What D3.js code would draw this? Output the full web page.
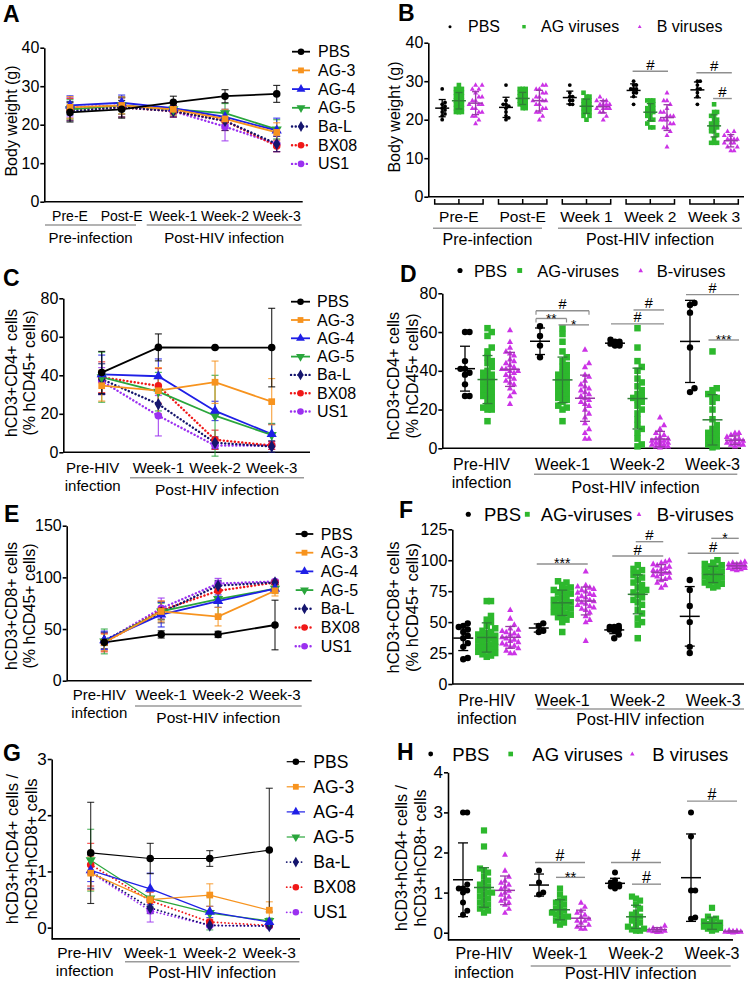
<!DOCTYPE html>
<html>
<head>
<meta charset="utf-8">
<script src="https://cdn.jsdelivr.net/npm/d3@7/dist/d3.min.js"></script>
<style>
html,body{margin:0;padding:0;background:#fff;}
svg{display:block;}
text{font-family:Arial,"Liberation Sans",Helvetica,sans-serif;}
</style>
</head>
<body>
<svg id="fig" width="748" height="982" xmlns="http://www.w3.org/2000/svg"></svg>
<script>
// ================= DATA =================
const lineSeries = ["PBS","AG-3","AG-4","AG-5","Ba-L","BX08","US1"];

// Panel A: body weight (g), mean and error per series
const aCategories = [["Pre-E"],["Post-E"],["Week-1"],["Week-2"],["Week-3"]];
const aGroupLabels = ["Pre-infection","Post-HIV infection"];
const aMeans = [
  [23.2,24.0,25.8,27.4,28.0],
  [24.5,25.0,24.0,21.5,18.0],
  [25.0,25.7,24.3,22.0,18.5],
  [24.0,25.0,24.0,23.0,18.8],
  [23.5,24.5,23.5,21.0,15.0],
  [24.0,24.5,23.5,21.0,14.5],
  [24.5,25.0,23.5,19.5,15.0]];
const aErrors = [
  [2.5,2.3,1.6,1.7,2.2],
  [2.8,2.2,1.5,2.5,2.5],
  [2.5,2.0,1.5,2.0,3.2],
  [2.5,2.2,1.5,2.5,2.5],
  [2.5,2.5,1.5,2.5,2.0],
  [2.8,2.5,1.5,2.5,1.5],
  [2.5,2.3,1.5,3.7,2.0]];

// Shared categories for panels C–H
const hivCategories = [["Pre-HIV","infection"],["Week-1"],["Week-2"],["Week-3"]];
const postLabel = "Post-HIV infection";

// Panel C: hCD3+CD4+ (% hCD45+)
const cMeans = [
  [41.4,54.5,54.4,54.4],
  [34.6,32.0,36.4,26.3],
  [40.5,39.5,21.5,9.5],
  [39.0,31.5,19.0,9.0],
  [38.0,25.0,5.0,3.0],
  [39.0,34.5,6.5,3.5],
  [37.0,19.0,3.5,3.5]];
const cErrors = [
  [11,7,0.5,20.4],
  [8,12,11,12],
  [10,9,5,5],
  [13,10,21,6],
  [8,6,3,3],
  [8,9,5,2],
  [7,10.5,2,2]];

// Panel E: hCD3+CD8+ (% hCD45+)
const eMeans = [
  [37.1,44.8,44.8,53.9],
  [37,67,62,87],
  [39,64,77,89],
  [38,67,79,89],
  [39,66,92,95],
  [37,68,87,95],
  [38,70,94,96]];
const eErrors = [
  [3,3.5,3,24],
  [8,10,9,5],
  [9,12,6,4],
  [12,8,17,4],
  [8,10,5,2],
  [9,9,6,2],
  [8,10,5,2]];

// Panel G: CD4/CD8 ratio
const gMeans = [
  [1.33,1.23,1.23,1.38],
  [0.97,0.50,0.58,0.31],
  [1.02,0.69,0.28,0.10],
  [1.20,0.52,0.26,0.12],
  [1.00,0.35,0.04,0.03],
  [1.12,0.48,0.10,0.04],
  [0.98,0.30,0.04,0.03]];
const gErrors = [
  [0.9,0.27,0.14,1.1],
  [0.3,0.15,0.2,0.15],
  [0.2,0.28,0.1,0.05],
  [0.55,0.15,0.3,0.05],
  [0.3,0.1,0.02,0.02],
  [0.38,0.15,0.05,0.02],
  [0.3,0.2,0.02,0.02]];

// Scatter panels: individual mice
const bLegend = ["PBS","AG viruses","B viruses"];
const dLegend = ["PBS","AG-viruses","B-viruses"];
const bCategories = [["Pre-E"],["Post-E"],["Week 1"],["Week 2"],["Week 3"]];

const bPBS = [
  [28,24.5,24,23.5,23,22.5,22,21.5,21,20],
  [29,25,24,24,23.5,23,22,21,20,20.5],
  [29,27,26,26,25,25,24,24],
  [30,29,29,28,28,28,27,27,26,24],
  [30,30,29,28,27,26,24,28]];
const bAG = [
  [29,28,28,28,27,27,27,26,26,26,25,25,25,25,24,24,24,24,23,23,23,23,22,22,22,22],
  [28,28,28,27,27,27,26,26,26,26,25,25,25,25,25,24,24,24,24,23,23],
  [27,26,26,25,25,25,24,24,24,24,23,23,23,23,22,22,22,21,21,20],
  [25,25,25,24,24,23,23,23,22,22,22,22,21,21,20,20,19,18,18],
  [24,22,22,21,21,20,20,19,19,19,18,18,18,17,17,16,15,14,14,14]];
const bB = [
  [29,29,28,27,26,26,25,25,24,24,24,23,23,22,22,21,21,20,19,28],
  [29,29,28,27,26,26,25,25,25,24,24,23,23,22,22,21,20,28,27],
  [26,25,25,24,24,24,23,23,23,22,22,21,20,25,24,23],
  [27,25,25,24,23,22,21,21,20,20,20,19,19,18,18,17,16,13,22,21],
  [17,17,16,15,15,15,14,14,14,13,13,12,12,16,15]];
const bSig = [
  {cat:3, from:0, to:2, y:32.6, label:"#"},
  {cat:4, from:0, to:2, y:32.2, label:"#"},
  {cat:4, from:1, to:2, y:25.5, label:"#"}];

const dPBS = [
  [60,60,45,41,41,39,38,33,27,27],
  [63,58,53,47],
  [56,55,55,54,54,54,53,53],
  [75,74,70,52,31,29]];
const dAG = [
  [62,60,58,52,50,47,45,44,42,40,39,38,37,36,35,34,33,32,31,30,29,28,27,26,25,23,22,21,20,20,14],
  [62,59,55,50,47,45,43,42,40,39,38,37,36,35,34,33,32,31,30,29,28,27,26,25,24,22,21,20,14],
  [62,52,45,42,40,36,34,32,30,28,27,26,25,24,22,20,18,15,12,10,8,5,2,1],
  [50,31,30,28,27,26,24,20,15,12,10,9,8,7,6,5,5,4,3,2,1,0.5]];
const dB = [
  [61,55,52,50,49,48,46,45,44,43,42,41,41,40,40,39,38,37,36,35,34,33,31,29,27,23],
  [51,44,42,38,37,35,33,32,31,30,29,28,27,26,25,24,23,22,20,18,16,13,10,8,5,5],
  [16,12,10,8,7,6,5,5,4,4,4,3,3,3,2,2,2,1,1,1,0.5],
  [8,8,7,6,5,5,4,4,3,3,3,2,2,2,1]];
const dSig = [
  {cat:1, from:0, to:2, y:71, label:"#", ends:true},
  {cat:1, from:0, to:1, y:67, label:"**", ends:true},
  {cat:1, from:1, to:2, y:63.7, label:"*"},
  {cat:2, from:1, to:2, y:71.4, label:"#"},
  {cat:2, from:0, to:2, y:64.2, label:"#"},
  {cat:3, from:0, to:2, y:79.3, label:"#"},
  {cat:3, from:1, to:2, y:55.9, label:"***"}];

const fPBS = [
  [49,47,46,44,42,39,37,33,30,21,20],
  [49,47,43,42],
  [47,46,46,45,45,44,44,43,40,37],
  [84,76,63,50,30,25]];
const fAG = [
  [67,67,55,52,50,47,45,43,42,41,40,39,38,37,36,35,34,33,32,31,30,30,29,28,27,26,25,24,23,22],
  [83,82,80,78,77,76,75,74,73,72,70,69,68,67,66,65,64,63,62,61,60,59,58,57,56,55,54,52,50,42],
  [96,93,92,90,88,86,84,82,80,78,76,75,74,72,70,68,66,64,60,57,53,50,48,37],
  [100,98,97,96,95,94,93,92,91,90,89,88,87,86,85,84,83,82,81,80,79,78]];
const fB = [
  [60,53,48,45,44,43,42,41,40,39,38,37,36,35,34,33,32,31,30,29,27,25,25],
  [91,80,79,78,77,76,75,74,73,72,71,70,69,68,67,66,65,64,63,62,61,60,58,55,52,50,35],
  [100,99,98,97,96,95,94,93,92,91,90,90,89,88,87,86,85,84,82,80,78],
  [99,98,98,97,97,96,96,95,95,94,94,93,93,92]];
const fSig = [
  {cat:1, from:0, to:2, y:97, label:"***"},
  {cat:2, from:1, to:2, y:115, label:"#"},
  {cat:2, from:0, to:2, y:103.4, label:"#"},
  {cat:3, from:1, to:2, y:117.7, label:"*"},
  {cat:3, from:0, to:2, y:105.6, label:"#"}];

const hPBS = [
  [3.0,3.0,1.2,1.1,1.1,1.05,1.0,0.75,0.55,0.45],
  [1.55,1.25,1.0,0.95],
  [1.5,1.3,1.25,1.2,1.2,1.15,1.15,1.1],
  [3.0,2.4,1.05,1.05,0.38,0.35]];
const hAG = [
  [2.55,2.15,1.6,1.55,1.5,1.4,1.3,1.25,1.2,1.15,1.1,1.05,1.0,1.0,0.95,0.9,0.85,0.8,0.75,0.7,0.65,0.6,0.55,0.5],
  [1.1,0.95,0.85,0.8,0.75,0.7,0.65,0.6,0.55,0.5,0.5,0.45,0.4,0.4,0.35,0.3,0.25,0.2],
  [0.9,0.85,0.8,0.7,0.6,0.5,0.45,0.4,0.35,0.3,0.25,0.2,0.15,0.1,0.08,0.05,0.05],
  [0.62,0.4,0.35,0.3,0.28,0.25,0.22,0.2,0.18,0.15,0.12,0.1,0.08,0.05]];
const hB = [
  [1.95,1.55,1.4,1.3,1.25,1.2,1.15,1.1,1.05,1.0,0.95,0.9,0.85,0.8,0.75,0.7,0.6,0.5],
  [0.75,0.65,0.55,0.5,0.45,0.4,0.35,0.3,0.3,0.25,0.2,0.15,0.1,0.1],
  [0.18,0.12,0.1,0.08,0.06,0.05,0.04,0.03,0.02],
  [0.06,0.05,0.04,0.03,0.03,0.02,0.02,0.01]];
const hSig = [
  {cat:1, from:0, to:2, y:1.75, label:"#"},
  {cat:1, from:1, to:2, y:1.38, label:"**"},
  {cat:2, from:0, to:2, y:1.75, label:"#"},
  {cat:2, from:1, to:2, y:1.21, label:"#"},
  {cat:3, from:0, to:2, y:3.28, label:"#"}];

// ================= STYLES =================
const lineStyle = [
  {color:"#000000", dotted:false, sym:"circle"},
  {color:"#f7931e", dotted:false, sym:"square"},
  {color:"#1f1fe6", dotted:false, sym:"triangle"},
  {color:"#2aa63c", dotted:false, sym:"triangleDown"},
  {color:"#15156e", dotted:true,  sym:"diamond"},
  {color:"#f01818", dotted:true,  sym:"circle"},
  {color:"#9b30f0", dotted:true,  sym:"circle"}];
const scatterStyle = [
  {fill:"#000000", bar:"#000000", shape:"dot"},
  {fill:"#2db82d", bar:"#2f7f36", shape:"square"},
  {fill:"#cc33e6", bar:"#9a3aa8", shape:"tri"}];
const SIGCOL = "#8f8f8f", GROUPCOL = "#9a9a9a";

const svg = d3.select("#fig");

// ================= HELPERS =================
function txt(g, x, y, s, size, o = {}) {
  return g.append("text").attr("x", x).attr("y", y).attr("font-size", size)
    .attr("text-anchor", o.anchor || "middle")
    .attr("font-weight", o.weight || "normal")
    .attr("dominant-baseline", o.db || "auto")
    .attr("fill", o.fill || "#000").text(s);
}
function panelLetter(L, pos) { txt(svg, pos[0], pos[1], L, 23, {anchor:"start", weight:"bold"}); }
function yLabel(lines, xs, yc, size) {
  lines.forEach((s, i) => {
    svg.append("text").attr("transform", `translate(${xs[i]},${yc}) rotate(-90)`)
      .attr("text-anchor", "middle").attr("dominant-baseline", "central")
      .attr("font-size", size).attr("fill", "#000").text(s);
  });
}
function yAxis(g, P, y) {
  const ax = g.append("g").attr("transform", `translate(${P.axisX},0)`)
    .call(d3.axisLeft(y).tickValues(P.yticks).tickFormat(d3.format("d"))
      .tickSize(4).tickSizeOuter(0).tickPadding(1));
  ax.select(".domain").attr("stroke", "#000").attr("stroke-width", 1.6);
  ax.selectAll(".tick line").attr("stroke", "#000").attr("stroke-width", 1.6);
  ax.selectAll(".tick text").attr("font-size", P.tickFont).attr("fill", "#000")
    .attr("font-family", "Arial, 'Liberation Sans', sans-serif");
  g.append("line").attr("x1", P.axisX).attr("x2", P.axisRight)
    .attr("y1", y.range()[0]).attr("y2", y.range()[0])
    .attr("stroke", "#000").attr("stroke-width", 1.6);
}
function symPath(type, size) {
  const map = {circle:d3.symbolCircle, square:d3.symbolSquare, triangle:d3.symbolTriangle,
               triangleDown:d3.symbolTriangle, diamond:d3.symbolDiamond};
  return d3.symbol(map[type], size)();
}
function drawSym(g, type, cx, cy, size, color) {
  g.append("path").attr("d", symPath(type, size))
    .attr("transform", `translate(${cx},${cy})` + (type === "triangleDown" ? " rotate(180)" : ""))
    .attr("fill", color);
}
function catLabels(g, cats, xpos, P) {
  cats.forEach((lines, i) => {
    lines.forEach((s, j) => {
      txt(g, xpos(i) + (P.catDx ? P.catDx[i] : 0), P.catBase[j], s, P.catFont);
    });
  });
}
function groupDecor(g, groups, font) {
  groups.forEach(gr => {
    g.append("line").attr("x1", gr.x0).attr("x2", gr.x1).attr("y1", gr.y).attr("y2", gr.y)
      .attr("stroke", GROUPCOL).attr("stroke-width", 1.6);
    txt(g, (gr.x0 + gr.x1) / 2, gr.base, gr.label, font);
  });
}

// ================= LINE CHART =================
function drawLineChart(P, cats, means, errors) {
  const g = svg.append("g");
  const x = d3.scalePoint().domain(d3.range(cats.length)).range(P.catRange);
  const y = d3.scaleLinear().domain(P.ydomain).range([P.yBottom, P.yTop]);
  yAxis(g, P, y);
  const order = d3.range(lineSeries.length).reverse();
  order.forEach(si => {
    const st = lineStyle[si];
    means[si].forEach((m, i) => {
      const e = errors[si][i], cx = x(i);
      g.append("line").attr("x1", cx).attr("x2", cx).attr("y1", y(m - e)).attr("y2", y(m + e))
        .attr("stroke", st.color).attr("stroke-width", P.ebW).attr("opacity", 0.8);
      [m - e, m + e].forEach(v => g.append("line").attr("x1", cx - P.cap).attr("x2", cx + P.cap)
        .attr("y1", y(v)).attr("y2", y(v)).attr("stroke", st.color).attr("stroke-width", P.ebW).attr("opacity", 0.8));
    });
  });
  const lineGen = d3.line().x((d, i) => x(i)).y(d => y(d));
  order.forEach(si => {
    const st = lineStyle[si];
    const p = g.append("path").attr("d", lineGen(means[si])).attr("fill", "none")
      .attr("stroke", st.color).attr("stroke-width", st.dotted ? P.lw + 0.6 : P.lw);
    if (st.dotted) p.attr("stroke-dasharray", "0.1,3.6").attr("stroke-linecap", "round");
  });
  order.forEach(si => {
    const st = lineStyle[si];
    means[si].forEach((m, i) => drawSym(g, st.sym, x(i), y(m), P.symSize, st.color));
  });
  lineSeries.forEach((name, si) => {
    const st = lineStyle[si];
    const ly = P.leg.y0 + si * P.leg.step;
    const l = g.append("line").attr("x1", P.leg.x0).attr("x2", P.leg.x1).attr("y1", ly).attr("y2", ly)
      .attr("stroke", st.color).attr("stroke-width", st.dotted ? P.lw + 0.6 : P.lw);
    if (st.dotted) l.attr("stroke-dasharray", "0.1,3.6").attr("stroke-linecap", "round");
    drawSym(g, st.sym, (P.leg.x0 + P.leg.x1) / 2, ly, P.symSize * 0.75, st.color);
    txt(g, P.leg.tx, ly, name, P.leg.font, {anchor:"start", db:"central"});
  });
  catLabels(g, cats, x, P);
  groupDecor(g, P.groups, P.groupFont);
}

// ================= SCATTER CHART =================
// deterministic column layout; overlaps allowed when the spread limit is reached
function swarm(pys, d, maxSpread) {
  const idx = d3.range(pys.length).sort((a, b) => pys[b] - pys[a]);
  const step = d * 0.65;
  const kmax = Math.max(1, Math.floor(maxSpread / step));
  const cands = [0];
  for (let k = 1; k <= kmax; k++) { cands.push(k * step, -k * step); }
  const placed = [], out = new Array(pys.length);
  idx.forEach(i => {
    const py = pys[i];
    let best = null, bestScore = -1;
    for (const dx of cands) {
      let minD = Infinity;
      placed.forEach(q => {
        const ddx = Math.abs(q.dx - dx), ddy = Math.abs(q.py - py);
        if (ddx < step * 0.9) minD = Math.min(minD, ddy);
      });
      if (minD >= d * 0.85) { best = dx; bestScore = Infinity; break; }
      if (minD > bestScore) { bestScore = minD; best = dx; }
    }
    placed.push({py, dx: best}); out[i] = best;
  });
  return out;
}
function drawMarker(g, shape, cx, cy, P, color) {
  if (shape === "dot") g.append("circle").attr("cx", cx).attr("cy", cy).attr("r", P.dotR).attr("fill", color);
  else if (shape === "square") g.append("rect").attr("x", cx - P.sq / 2).attr("y", cy - P.sq / 2)
      .attr("width", P.sq).attr("height", P.sq).attr("fill", color);
  else {
    const w = P.tri, h = w * 0.9;
    g.append("path").attr("d", `M${cx},${cy - h * 0.6}L${cx + w / 2},${cy + h * 0.4}L${cx - w / 2},${cy + h * 0.4}Z`).attr("fill", color);
  }
}
function drawScatter(P, cats, groups, sig, legendNames) {
  const g = svg.append("g");
  const xb = d3.scaleBand().domain(d3.range(cats.length)).range(P.bandRange);
  const center = i => xb(i) + xb.bandwidth() / 2;
  const off = [-P.sub, 0, P.sub];
  const y = d3.scaleLinear().domain(P.ydomain).range([P.yBottom, P.yTop]);
  yAxis(g, P, y);
  const ptG = g.append("g"), barG = g.append("g");
  cats.forEach((c, i) => {
    groups.forEach((grp, k) => {
      const vals = grp[i], st = scatterStyle[k];
      const cx0 = center(i) + off[k];
      const pys = vals.map(v => y(v));
      const size = k === 0 ? P.dotR * 2 + 0.5 : (k === 1 ? P.sq : P.tri);
      const dxs = swarm(pys, size, P.spread[k]);
      vals.forEach((v, j) => drawMarker(ptG, st.shape, cx0 + dxs[j], pys[j], P, st.fill));
      const m = d3.mean(vals), sd = d3.deviation(vals);
      barG.append("line").attr("x1", cx0 - P.meanW).attr("x2", cx0 + P.meanW).attr("y1", y(m)).attr("y2", y(m))
        .attr("stroke", st.bar).attr("stroke-width", 1.5);
      barG.append("line").attr("x1", cx0).attr("x2", cx0).attr("y1", y(m - sd)).attr("y2", y(m + sd))
        .attr("stroke", st.bar).attr("stroke-width", 1.3);
      [m - sd, m + sd].forEach(v => barG.append("line").attr("x1", cx0 - P.capW).attr("x2", cx0 + P.capW)
        .attr("y1", y(v)).attr("y2", y(v)).attr("stroke", st.bar).attr("stroke-width", 1.3));
    });
    if (P.bracket) {
      const yb = P.bracket.y, half = P.sub + P.bracket.ext, cx = center(i);
      g.append("path").attr("d", `M${cx - half},${yb - 5}V${yb}H${cx + half}V${yb - 5}M${cx},${yb}V${yb - 5}`)
        .attr("fill", "none").attr("stroke", "#000").attr("stroke-width", 1.5);
    }
  });
  sig.forEach(s => {
    const xa = center(s.cat) + off[s.from] - P.sigPad, xz = center(s.cat) + off[s.to] + P.sigPad;
    const yy = y(s.y);
    g.append("line").attr("x1", xa).attr("x2", xz).attr("y1", yy).attr("y2", yy)
      .attr("stroke", SIGCOL).attr("stroke-width", 1.4);
    if (s.ends) {
      [xa, xz].forEach(xx => g.append("line").attr("x1", xx).attr("x2", xx).attr("y1", yy).attr("y2", yy + 4)
        .attr("stroke", SIGCOL).attr("stroke-width", 1.2));
    }
    const isHash = s.label === "#";
    txt(g, (xa + xz) / 2, isHash ? yy - 1.5 : yy + 4.5, s.label, isHash ? P.sigFont : P.sigFont - 1);
  });
  legendNames.forEach((name, k) => {
    const L = P.leg[k];
    const P2 = Object.assign({}, P, {dotR: P.dotR * 0.8, sq: P.sq * 0.75, tri: P.tri * 0.75});
    drawMarker(g, scatterStyle[k].shape, L[0], P.legY, P2, scatterStyle[k].fill);
    txt(g, L[1], P.legY, name, P.legFont, {anchor:"start", db:"central"});
  });
  catLabels(g, cats, center, P);
  groupDecor(g, P.groups, P.groupFont);
}

// ================= PANELS =================
// A
panelLetter("A", [3, 22]);
yLabel(["Body weight (g)"], [11], 121, 16);
drawLineChart({
  axisX:44.3, axisRight:302.7, yBottom:201.7, yTop:47.7, ydomain:[0,40], yticks:[0,10,20,30,40],
  catRange:[70,276.7], tickFont:16, catFont:14, catBase:[221], lw:1.8, ebW:1.2, cap:3.5, symSize:45,
  leg:{x0:292, x1:310, tx:318, y0:51.7, step:18.7, font:16},
  groups:[{x0:45, x1:136, y:225, label:aGroupLabels[0], base:243},
          {x0:146.7, x1:301.7, y:225, label:aGroupLabels[1], base:243}], groupFont:15
}, aCategories, aMeans, aErrors);

// B
panelLetter("B", [398, 21]);
yLabel(["Body weight (g)"], [394], 117, 16);
drawScatter({
  axisX:428.3, axisRight:744, yBottom:196.7, yTop:42.7, ydomain:[0,40], yticks:[0,10,20,30,40],
  bandRange:[427,746], sub:16.7, tickFont:16, catFont:15.5, catBase:[221.5],
  dotR:1.9, sq:4.6, tri:5, meanW:7, capW:3.5, sigPad:1, sigFont:15, spread:[4,5.5,6.5],
  bracket:{y:204, ext:7.5},
  leg:[[450,468],[524,541],[639.7,656.7]], legY:26.7, legFont:16,
  groups:[{x0:433, x1:542, y:228.3, label:"Pre-infection", base:245},
          {x0:558, x1:742, y:228.3, label:"Post-HIV infection", base:245}], groupFont:16
}, bCategories, [bPBS, bAG, bB], bSig, bLegend);

// C
panelLetter("C", [3, 286]);
yLabel(["hCD3+CD4+ cells","(% hCD45+ cells)"], [11, 29], 373, 16);
drawLineChart({
  axisX:63.3, axisRight:310, yBottom:452.3, yTop:298.3, ydomain:[0,80], yticks:[0,20,40,60,80],
  catRange:[101.7,271.7], catDx:[-9,0,0,0], tickFont:16, catFont:15, catBase:[472.5,490.5], lw:1.8, ebW:1.2, cap:3.5, symSize:45,
  leg:{x0:291, x1:310, tx:317, y0:301.7, step:18.3, font:16},
  groups:[{x0:130, x1:304, y:477.7, label:postLabel, base:495}], groupFont:15.5
}, hivCategories, cMeans, cErrors);

// D
panelLetter("D", [400, 282]);
yLabel(["hCD3+CD4+ cells","(% hCD45+ cells)"], [393, 412], 376, 16);
drawScatter({
  axisX:442.3, axisRight:741, yBottom:448.3, yTop:293.3, ydomain:[0,80], yticks:[0,20,40,60,80],
  bandRange:[450,750], sub:22.5, catDx:[-6,0,0,0], tickFont:16, catFont:16, catBase:[470,488],
  dotR:3.2, sq:6.5, tri:6.2, meanW:10, capW:5, sigPad:4, sigFont:14.5, spread:[6,8,9],
  leg:[[460,474],[519.7,537.3],[640.7,656.7]], legY:270.5, legFont:16.5,
  groups:[{x0:534, x1:737.3, y:474.3, label:postLabel, base:492.5}], groupFont:16
}, hivCategories, [dPBS, dAG, dB], dSig, dLegend);

// E
panelLetter("E", [4, 522]);
yLabel(["hCD3+CD8+ cells","(% hCD45+ cells)"], [11, 29], 606, 16);
drawLineChart({
  axisX:66.7, axisRight:311.7, yBottom:680.7, yTop:525.7, ydomain:[0,150], yticks:[0,50,100,150],
  catRange:[104.3,275], catDx:[-5,0,0,0], tickFont:16, catFont:15, catBase:[700,718], lw:1.8, ebW:1.2, cap:3.5, symSize:45,
  leg:{x0:295.7, x1:313.3, tx:320.7, y0:534, step:18.7, font:16},
  groups:[{x0:135, x1:301.7, y:706, label:postLabel, base:723}], groupFont:15.5
}, hivCategories, eMeans, eErrors);

// F
panelLetter("F", [399, 518]);
yLabel(["hCD3+CD8+ cells","(% hCD45+ cells)"], [393, 412], 607.5, 16.5);
drawScatter({
  axisX:452.3, axisRight:744, yBottom:684, yTop:529.3, ydomain:[0,125], yticks:[0,25,50,75,100,125],
  bandRange:[449,751], sub:23.5, tickFont:16, catFont:16, catBase:[705.5,723.5],
  dotR:3.2, sq:6.5, tri:6.2, meanW:10, capW:5, sigPad:2, sigFont:15, spread:[8,12,12],
  leg:[[468.3,484],[527.3,540.7],[639,656.7]], legY:514.3, legFont:18.5,
  groups:[{x0:536.7, x1:744, y:709, label:postLabel, base:725}], groupFont:16
}, hivCategories, [fPBS, fAG, fB], fSig, dLegend);

// G
panelLetter("G", [3, 761]);
yLabel(["hCD3+hCD4+ cells /","hCD3+hCD8+ cells"], [12, 31], 849, 16.5);
drawLineChart({
  axisX:51.7, axisRight:300, yBottom:938.9, yTop:759, ydomain:[-0.2,3], yticks:[0,1,2,3],
  catRange:[90.7,269.3], catDx:[-6,0,0,0], tickFont:17, catFont:15.5, catBase:[958,976], lw:1.2, ebW:1.1, cap:3.5, symSize:45,
  leg:{x0:286.7, x1:305, tx:313.3, y0:761.7, step:25.1, font:17.5},
  groups:[{x0:125, x1:299.3, y:961.7, label:postLabel, base:978}], groupFont:16
}, hivCategories, gMeans, gErrors);

// H
panelLetter("H", [397, 760]);
yLabel(["hCD3+hCD4+ cells /","hCD3+hCD8+ cells"], [401, 420], 858, 16);
drawScatter({
  axisX:448, axisRight:733, yBottom:939.9, yTop:772.3, ydomain:[-0.18,4], yticks:[0,1,2,3,4],
  bandRange:[446,750], sub:21, tickFont:17, catFont:16, catBase:[958.5,977.5],
  dotR:3, sq:6.2, tri:6, meanW:10, capW:5, sigPad:4, sigFont:16, spread:[7,11,9],
  leg:[[430.7,452.3],[510.7,532.3],[632.3,652.3]], legY:754, legFont:18.5,
  groups:[{x0:530.7, x1:730.7, y:966, label:postLabel, base:979}], groupFont:16.5
}, hivCategories, [hPBS, hAG, hB], hSig, bLegend);
</script>
</body>
</html>
